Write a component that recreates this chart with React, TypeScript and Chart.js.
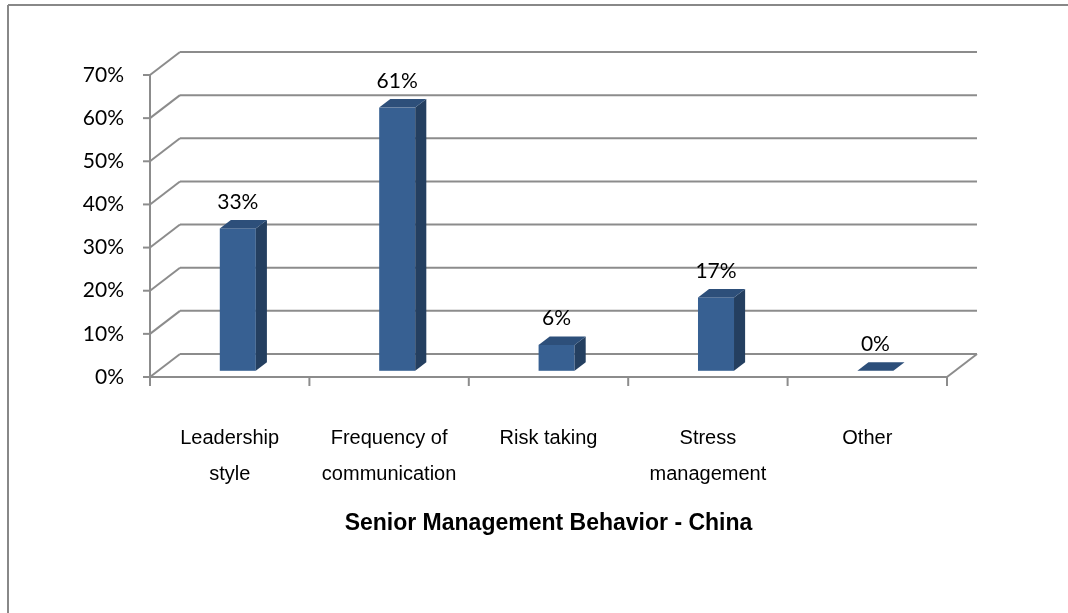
import React, { useEffect, useRef } from 'react';
import { Chart, registerables } from 'chart.js';

Chart.register(...registerables);

// ---- data ----
const categories: string[][] = [
  ['Leadership', 'style'],
  ['Frequency of', 'communication'],
  ['Risk taking'],
  ['Stress', 'management'],
  ['Other'],
];
const values: number[] = [33, 61, 6, 17, 0];
const yTickValues: number[] = [0, 10, 20, 30, 40, 50, 60, 70];
const chartTitle = 'Senior Management Behavior - China';

// ---- styling / geometry ----
const W = 1068;
const H = 613;
const DX = 30; // depth offset of back wall
const DY = -23;
const BAR_FRONT = 0.27;
const BAR_BACK = 0.64;
const GRID = '#8c8c8c';
const FRONT = '#376092';
const TOP = '#2d4f7a';
const SIDE = '#243f60';

const threeD = {
  id: 'threeD',
  beforeDatasetsDraw(chart: any) {
    const ctx = chart.ctx;
    const xs = chart.scales.x;
    const ys = chart.scales.y;
    const left = xs.left;
    const right = xs.right;
    const line = (x1: number, y1: number, x2: number, y2: number) => {
      ctx.beginPath();
      ctx.moveTo(x1, y1);
      ctx.lineTo(x2, y2);
      ctx.stroke();
    };
    ctx.save();
    // outer frame (top and left visible)
    ctx.strokeStyle = '#888888';
    ctx.lineWidth = 2;
    line(8, 5, W, 5);
    line(8, 5, 8, H);

    ctx.strokeStyle = GRID;
    ctx.lineWidth = 2;
    ctx.lineCap = 'butt';
    for (const v of yTickValues) {
      const py = ys.getPixelForValue(v);
      line(left, py, left + DX, py + DY);
      line(left + DX, py + DY, right + DX, py + DY);
      line(left - 7, py, left, py);
    }
    const top = ys.getPixelForValue(yTickValues[yTickValues.length - 1]);
    const p0 = ys.getPixelForValue(0);
    line(left, top, left, p0);
    line(left, p0, right, p0);
    line(right, p0, right + DX, p0 + DY);
    // category boundary ticks
    const n = categories.length;
    for (let i = 0; i <= n; i++) {
      let x: number;
      if (i === 0) x = left;
      else if (i === n) x = right;
      else x = (xs.getPixelForValue(i - 1) + xs.getPixelForValue(i)) / 2;
      line(x, p0, x, p0 + 9);
    }
    ctx.restore();
  },
  afterDatasetsDraw(chart: any) {
    const ctx = chart.ctx;
    const meta = chart.getDatasetMeta(0);
    const fdx = DX * BAR_FRONT;
    const fdy = DY * BAR_FRONT;
    const bdx = DX * (BAR_BACK - BAR_FRONT);
    const bdy = DY * (BAR_BACK - BAR_FRONT);
    ctx.save();
    meta.data.forEach((bar: any, i: number) => {
      const { x, y, base, width } = bar.getProps(['x', 'y', 'base', 'width'], true);
      const x0 = x - width / 2 + fdx;
      const x1 = x + width / 2 + fdx;
      const t = y + fdy;
      const b = base + fdy;
      // front
      ctx.fillStyle = FRONT;
      ctx.fillRect(x0, t, x1 - x0, b - t);
      // side
      ctx.fillStyle = SIDE;
      ctx.beginPath();
      ctx.moveTo(x1, t);
      ctx.lineTo(x1 + bdx, t + bdy);
      ctx.lineTo(x1 + bdx, b + bdy);
      ctx.lineTo(x1, b);
      ctx.closePath();
      ctx.fill();
      // top
      ctx.fillStyle = TOP;
      ctx.beginPath();
      ctx.moveTo(x0, t);
      ctx.lineTo(x0 + bdx, t + bdy);
      ctx.lineTo(x1 + bdx, t + bdy);
      ctx.lineTo(x1, t);
      ctx.closePath();
      ctx.fill();
      // label
      ctx.fillStyle = '#000';
      ctx.font = '21px Lato, "Open Sans", sans-serif';
      ctx.textAlign = 'center';
      ctx.textBaseline = 'alphabetic';
      ctx.fillText(values[i] + '%', (x0 + x1) / 2, t + bdy - 11);
    });
    ctx.restore();
  },
};

export default function App() {
  const ref = useRef<HTMLCanvasElement | null>(null);
  useEffect(() => {
    document.body.style.margin = '0';
    const canvas = ref.current;
    if (!canvas) return;
    const chart = new Chart(canvas, {
      type: 'bar',
      data: {
        labels: categories,
        datasets: [
          {
            data: values,
            backgroundColor: 'rgba(0,0,0,0)',
            borderWidth: 0,
            categoryPercentage: 1,
            barPercentage: 0.226,
          },
        ],
      },
      options: {
        responsive: false,
        animation: false,
        devicePixelRatio: 1,
        layout: { padding: { left: 0, right: 121, top: 75, bottom: 76 } },
        plugins: {
          legend: { display: false },
          tooltip: { enabled: false },
          title: {
            display: true,
            text: chartTitle,
            position: 'bottom',
            fullSize: false,
            align: 'center',
            color: '#000',
            padding: 0,
            font: { family: '"Liberation Sans", Arial, sans-serif', size: 23, weight: 'bold', lineHeight: 1.2 },
          },
        },
        scales: {
          x: {
            type: 'category',
            offset: true,
            grid: { display: false, drawTicks: false },
            border: { display: false },
            ticks: {
              color: '#000',
              padding: 43,
              maxRotation: 0,
              autoSkip: false,
              font: { family: '"Liberation Sans", Arial, sans-serif', size: 20, lineHeight: '36px' },
            },
            afterFit: (s: any) => {
              s.height = H - 76 - 27.6 - 377;
            },
          },
          y: {
            min: 0,
            max: 70,
            grid: { display: false, drawTicks: false },
            border: { display: false },
            ticks: {
              stepSize: 10,
              color: '#000',
              padding: 26,
              font: { family: 'Lato, "Open Sans", sans-serif', size: 21 },
              callback: (v: any) => v + '%',
            },
            afterFit: (s: any) => {
              s.width = 150;
            },
          },
        },
      },
      plugins: [threeD],
    });
    return () => chart.destroy();
  }, []);
  return (
    <div style={{ position: 'absolute', left: 0, top: 0, width: W, height: H }}>
      <canvas ref={ref} width={W} height={H} style={{ display: 'block' }} />
    </div>
  );
}
